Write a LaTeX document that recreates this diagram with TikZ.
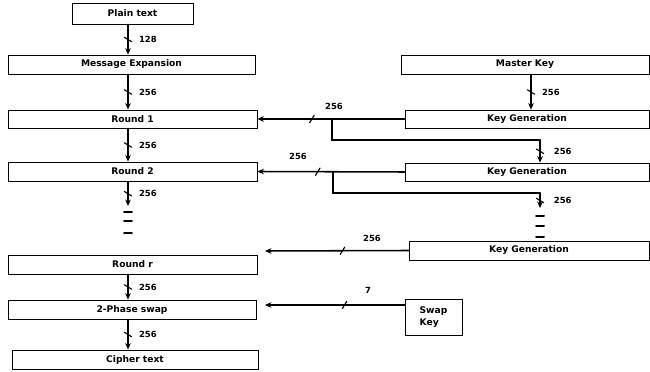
\documentclass[tikz,border=0pt]{standalone}
\usepackage{fontspec}
\setmainfont{DejaVu Sans}
\usetikzlibrary{arrows.meta,decorations.markings}

\begin{document}
\begin{tikzpicture}[x=0.025cm,y=-0.025cm,>={Stealth[length=1.6mm,width=1.4mm]},
  font=\bfseries\fontsize{6.5}{7}\selectfont,line cap=round,
  blk/.style={draw,line width=0.6pt,inner sep=0pt},
  num/.style={font=\bfseries\fontsize{6}{7}\selectfont},
  bus/.style={->,line width=1.1pt,postaction={decorate},
    decoration={markings,mark=at position #1 with {\draw[-,line width=0.8pt] (-1.6pt,-2.6pt) -- (1.6pt,2.6pt);}}},
  bus/.default=0.5,
  wire/.style={line width=1.1pt},
  gap/.style={line width=1.4pt}]
\useasboundingbox (0,0) rectangle (650,372);
% left column
\node[blk,minimum width=3.025cm,minimum height=0.525cm] (plain) at (132.5,13.5) {Plain text};
\node[blk,minimum width=6.175cm,minimum height=0.475cm] (msg) at (131.5,64.5) {Message Expansion};
\node[blk,minimum width=6.225cm,minimum height=0.45cm] (r1) at (132.5,119) {Round 1};
\node[blk,minimum width=6.225cm,minimum height=0.475cm] (r2) at (132.5,171.5) {Round 2};
\node[blk,minimum width=6.225cm,minimum height=0.475cm] (rr) at (132.5,264.5) {Round r};
\node[blk,minimum width=6.2cm,minimum height=0.475cm] (swap) at (132,309.5) {2-Phase swap};
\node[blk,minimum width=6.15cm,minimum height=0.475cm] (ciph) at (135,359.5) {Cipher text};
% right column
\node[blk,minimum width=6.2cm,minimum height=0.475cm] (mk) at (525,64.5) {Master Key};
\node[blk,minimum width=6.1cm,minimum height=0.45cm] (kg1) at (527,119) {Key Generation};
\node[blk,minimum width=6.1cm,minimum height=0.45cm] (kg2) at (527,172) {Key Generation};
\node[blk,minimum width=6cm,minimum height=0.475cm] (kg3) at (529,250.5) {Key Generation};
\node[blk,minimum width=1.425cm,minimum height=0.9cm,align=left] (sk) at (433.5,317) {Swap\\[2pt]Key};
% left data path
\draw[bus] (plain.south -| 128,0) -- (msg.north -| 128,0) node[num,midway,right=4pt]{128};
\draw[bus] (msg.south -| 128,0) -- (r1.north -| 128,0) node[num,midway,right=4pt]{256};
\draw[bus] (r1.south -| 128,0) -- (r2.north -| 128,0) node[num,midway,right=4pt]{256};
\coordinate (e0) at (128,206);
\draw[bus] (r2.south -| e0) -- (e0) node[num,midway,right=4pt]{256};
\foreach \y in {212,221,233} \draw[gap] (124,\y) -- (132,\y);
\draw[bus] (rr.south -| 128,0) -- (swap.north -| 128,0) node[num,midway,right=4pt]{256};
\draw[bus] (swap.south -| 128,0) -- (ciph.north -| 128,0) node[num,midway,right=4pt]{256};
% key schedule
\draw[bus] (mk.south -| 531,0) -- (kg1.north -| 531,0) node[num,midway,right=4pt]{256};
\draw[bus=0.63] (kg1.west) -- (r1.east);
\node[num] (l1) at (334,106) {256};
\coordinate (b1) at (332,119);
\coordinate (t1) at (540,140);
\draw[wire] (b1) |- (t1);
\draw[bus] (t1) -- (kg2.north -| t1) node[num,midway,right=6pt]{256};
\draw[bus=0.59] (kg2.west) -- (r2.east);
\node[num] (l2) at (298,156) {256};
\coordinate (b2) at (333,172);
\coordinate (t2) at (540,193);
\coordinate (e2) at (540,208);
\draw[wire] (b2) |- (t2);
\draw[bus] (t2) -- (e2) node[num,midway,right=6pt]{256};
\foreach \y in {216,226,237} \draw[gap] (536,\y) -- (544,\y);
\coordinate (a3) at (265,251);
\draw[bus=0.46] (kg3.west) -- (a3);
\node[num] (l3) at (372,238) {256};
\coordinate (a4) at (265,305);
\draw[bus=0.43] (sk.west |- a4) -- (a4);
\node[num] (l4) at (368,290) {7};
\end{tikzpicture}
\end{document}
